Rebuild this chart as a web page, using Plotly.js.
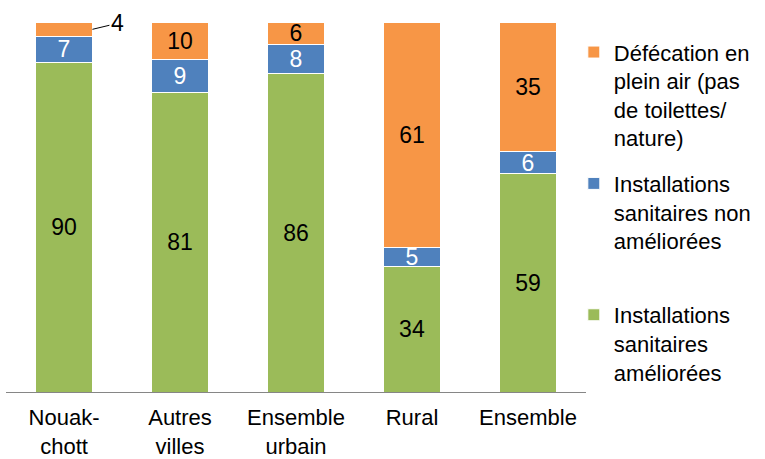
<!DOCTYPE html>
<html>
<head>
<meta charset="utf-8">
<script src="https://cdn.plot.ly/plotly-3.0.1.min.js"></script>
<style>html,body{margin:0;padding:0;background:#fff;}#chart{width:765px;height:459px;}</style>
</head>
<body>
<div id="chart"></div>
<script>
const categories = ["Nouak-<br>chott", "Autres<br>villes", "Ensemble<br>urbain", "Rural", "Ensemble"];
const ameliorees = [90, 81, 86, 34, 59];
const nonAmeliorees = [7, 9, 8, 5, 6];
const defecation = [4, 10, 6, 61, 35];
const seriesNames = [
  "Installations<br>sanitaires<br>améliorées",
  "Installations<br>sanitaires non<br>améliorées",
  "Défécation en<br>plein air (pas<br>de toilettes/<br>nature)"
];

const FONT = "Liberation Sans, Arial, sans-serif";
const fs = 23;
const lfs = 22;

const traces = [
  {
    type: "bar", x: categories, y: ameliorees, name: seriesNames[0],
    marker: {color: "#9BBB59", line: {color: "#ffffff", width: 1}},
    text: ameliorees.map(String), textposition: "inside", insidetextanchor: "middle",
    textangle: 0, textfont: {color: "#000000", size: fs, family: FONT},
    legend: "legend3", hoverinfo: "skip"
  },
  {
    type: "bar", x: categories, y: nonAmeliorees, name: seriesNames[1],
    marker: {color: "#4F81BD", line: {color: "#ffffff", width: 1}},
    text: nonAmeliorees.map(String), textposition: "inside", insidetextanchor: "middle",
    textangle: 0, textfont: {color: "#ffffff", size: fs, family: FONT},
    legend: "legend2", hoverinfo: "skip"
  },
  {
    type: "bar", x: categories, y: defecation, name: seriesNames[2],
    marker: {color: "#F79646", line: {color: "#ffffff", width: 1}},
    text: defecation.map((v, i) => i === 0 ? "" : String(v)), textposition: "inside", insidetextanchor: "middle",
    textangle: 0, textfont: {color: "#000000", size: fs, family: FONT},
    legend: "legend", hoverinfo: "skip"
  }
];

const tot0 = ameliorees[0] + nonAmeliorees[0] + defecation[0];
const tipY = (ameliorees[0] + nonAmeliorees[0] + defecation[0] / 2) / tot0 * 100;

const legendBase = {
  xref: "paper", yref: "paper", xanchor: "left", yanchor: "top",
  font: {family: FONT, size: lfs, color: "#000000"},
  bgcolor: "rgba(0,0,0,0)", borderwidth: 0, valign: "top", itemwidth: 30,
  itemclick: false, itemdoubleclick: false
};

const layout = {
  width: 765, height: 459,
  margin: {l: 6, r: 179, t: 22, b: 67, autoexpand: false},
  paper_bgcolor: "#ffffff", plot_bgcolor: "#ffffff",
  font: {family: FONT, size: fs, color: "#000000"},
  barmode: "stack", barnorm: "percent", bargap: 0.51,
  uniformtext: {minsize: fs, mode: "show"},
  xaxis: {
    showline: true, linecolor: "#868686", linewidth: 1, ticks: "",
    tickfont: {family: FONT, size: 22, color: "#000000"},
    ticklabelstandoff: 6,
    showgrid: false, zeroline: false, fixedrange: true
  },
  yaxis: {
    range: [0, 100], showline: false, showgrid: false, zeroline: false,
    showticklabels: false, ticks: "", fixedrange: true
  },
  showlegend: true,
  legend: Object.assign({}, legendBase, {x: 0.979, y: 0.975}),
  legend2: Object.assign({}, legendBase, {x: 0.979, y: 0.62}),
  legend3: Object.assign({}, legendBase, {x: 0.979, y: 0.265}),
  annotations: [{
    x: 0.245, y: tipY, xref: "x", yref: "y",
    text: String(defecation[0]), showarrow: true, arrowhead: 0, arrowwidth: 1,
    arrowcolor: "#000000", ax: 25, ay: -6, standoff: 0,
    font: {family: FONT, size: fs, color: "#000000"}
  }]
};

Plotly.newPlot("chart", traces, layout, {displayModeBar: false, staticPlot: true});
</script>
</body>
</html>
